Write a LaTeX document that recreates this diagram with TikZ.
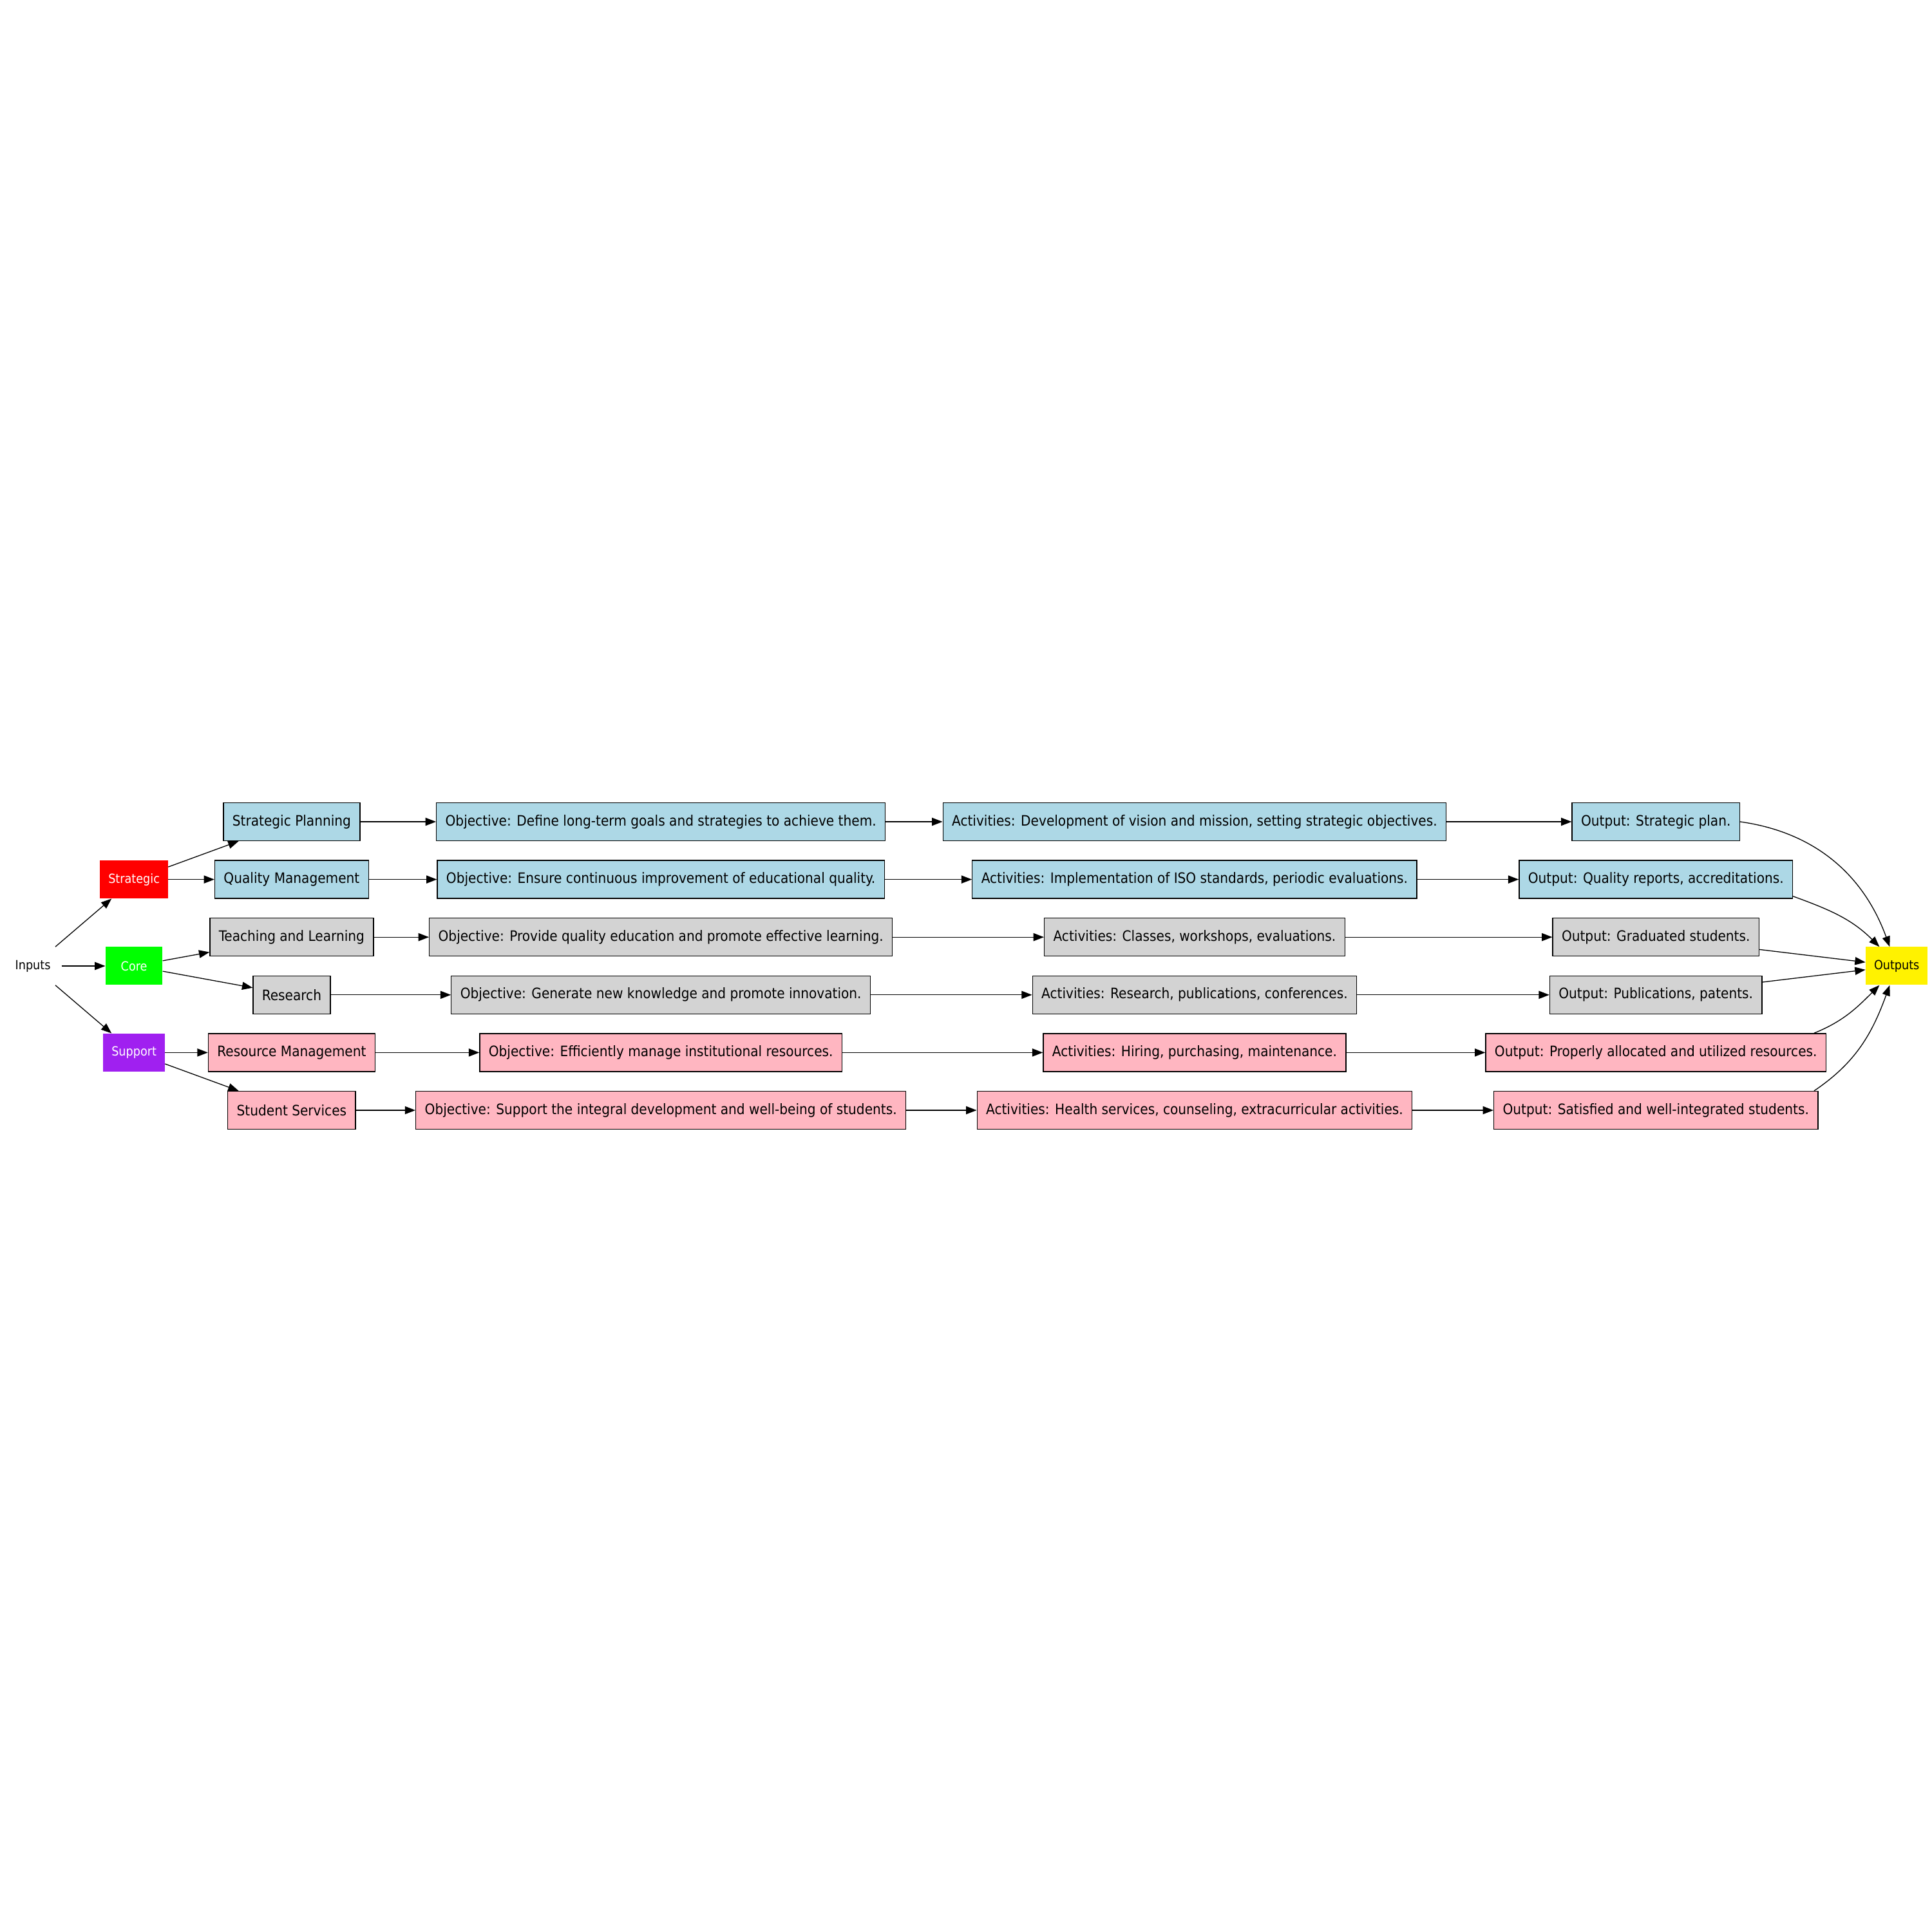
\documentclass[tikz,border=0pt]{standalone}
\usepackage{fontspec}
\setmainfont{DejaVu Sans Condensed}
\usetikzlibrary{arrows.meta}
\definecolor{boxblue}{HTML}{ADD8E6}
\definecolor{boxgrey}{HTML}{D3D3D3}
\definecolor{boxpink}{HTML}{FFB6C1}
\definecolor{catgreen}{HTML}{00FF00}
\definecolor{catpurple}{HTML}{A020F0}
\tikzset{
  procbox/.style={draw=black, line width=0.8pt, minimum height=1.27cm, inner xsep=0.3cm, font=\fontsize{13.7}{16}\selectfont},
  bluebox/.style={procbox, fill=boxblue},
  greybox/.style={procbox, fill=boxgrey},
  pinkbox/.style={procbox, fill=boxpink},
  catbox/.style={minimum height=1.27cm, minimum width=1.905cm, inner xsep=0.28cm, text=white, font=\fontsize{12}{14}\selectfont},
  flow/.style={-{Triangle[length=10pt,width=7.5pt]}, line width=0.8pt},
}
\begin{document}
\begin{tikzpicture}
\useasboundingbox (0,-32.29) rectangle (64.58,32.29);
% categories
\node[catbox, text=black] (inputs) at (1.10,0) {Inputs};
\node[catbox, fill=red] (strategic) at (4.48,2.893) {Strategic};
\node[catbox, fill=catgreen] (core) at (4.48,0) {Core};
\node[catbox, fill=catpurple] (support) at (4.48,-2.893) {Support};
\node[catbox, fill=yellow, text=black] (outputs) at (63.40,0) {Outputs};
% processes
\node[bluebox] (plan) at (9.75,4.822) {Strategic Planning};
\node[bluebox] (quality) at (9.75,2.893) {Quality Management};
\node[greybox] (teach) at (9.75,0.965) {Teaching and Learning};
\node[greybox] (research) at (9.75,-0.965) {Research};
\node[pinkbox] (resource) at (9.75,-2.893) {Resource Management};
\node[pinkbox] (student) at (9.75,-4.822) {Student Services};
% objectives
\node[bluebox] (plan obj) at (22.09,4.822) {Objective: Define long-term goals and strategies to achieve them.};
\node[bluebox] (quality obj) at (22.09,2.893) {Objective: Ensure continuous improvement of educational quality.};
\node[greybox] (teach obj) at (22.09,0.965) {Objective: Provide quality education and promote effective learning.};
\node[greybox] (research obj) at (22.09,-0.965) {Objective: Generate new knowledge and promote innovation.};
\node[pinkbox] (resource obj) at (22.09,-2.893) {Objective: Efficiently manage institutional resources.};
\node[pinkbox] (student obj) at (22.09,-4.822) {Objective: Support the integral development and well-being of students.};
% activities
\node[bluebox] (plan act) at (39.93,4.822) {Activities: Development of vision and mission, setting strategic objectives.};
\node[bluebox] (quality act) at (39.93,2.893) {Activities: Implementation of ISO standards, periodic evaluations.};
\node[greybox] (teach act) at (39.93,0.965) {Activities: Classes, workshops, evaluations.};
\node[greybox] (research act) at (39.93,-0.965) {Activities: Research, publications, conferences.};
\node[pinkbox] (resource act) at (39.93,-2.893) {Activities: Hiring, purchasing, maintenance.};
\node[pinkbox] (student act) at (39.93,-4.822) {Activities: Health services, counseling, extracurricular activities.};
% outputs
\node[bluebox] (plan out) at (55.35,4.822) {Output: Strategic plan.};
\node[bluebox] (quality out) at (55.35,2.893) {Output: Quality reports, accreditations.};
\node[greybox] (teach out) at (55.35,0.965) {Output: Graduated students.};
\node[greybox] (research out) at (55.35,-0.965) {Output: Publications, patents.};
\node[pinkbox] (resource out) at (55.35,-2.893) {Output: Properly allocated and utilized resources.};
\node[pinkbox] (student out) at (55.35,-4.822) {Output: Satisfied and well-integrated students.};
% edges
\draw[flow] (inputs) -- (strategic);
\draw[flow] (inputs) -- (core);
\draw[flow] (inputs) -- (support);
\draw[flow] (strategic) -- (plan);
\draw[flow] (strategic) -- (quality);
\draw[flow] (core) -- (teach);
\draw[flow] (core) -- (research);
\draw[flow] (support) -- (resource);
\draw[flow] (support) -- (student);
\draw[flow] (plan) -- (plan obj);
\draw[flow] (plan obj) -- (plan act);
\draw[flow] (plan act) -- (plan out);
\draw[flow] (quality) -- (quality obj);
\draw[flow] (quality obj) -- (quality act);
\draw[flow] (quality act) -- (quality out);
\draw[flow] (teach) -- (teach obj);
\draw[flow] (teach obj) -- (teach act);
\draw[flow] (teach act) -- (teach out);
\draw[flow] (research) -- (research obj);
\draw[flow] (research obj) -- (research act);
\draw[flow] (research act) -- (research out);
\draw[flow] (resource) -- (resource obj);
\draw[flow] (resource obj) -- (resource act);
\draw[flow] (resource act) -- (resource out);
\draw[flow] (student) -- (student obj);
\draw[flow] (student obj) -- (student act);
\draw[flow] (student act) -- (student out);
\draw[flow] (plan out.east) to[out=-8,in=110] (outputs.110);
\draw[flow] (quality out.-7) to[out=-20,in=135] (outputs.132);
\draw[flow] (teach out) -- (outputs);
\draw[flow] (research out) -- (outputs);
\draw[flow] (resource out.7.5) to[out=22,in=225] (outputs.228);
\draw[flow] (student out.7) to[out=34,in=250] (outputs.250);
\end{tikzpicture}
\end{document}
